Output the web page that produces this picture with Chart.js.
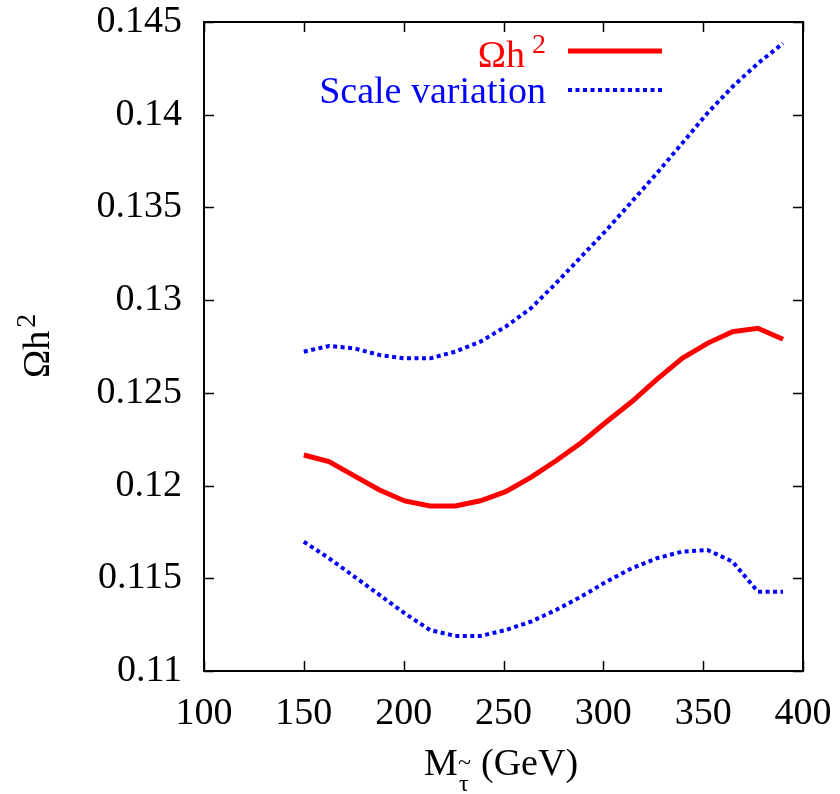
<!DOCTYPE html>
<html>
<head>
<meta charset="utf-8">
<script src="https://cdn.jsdelivr.net/npm/chart.js@4"></script>
<style>
  body { margin: 0; background: #fff; }
  canvas { display: block; }
</style>
</head>
<body>
<canvas id="chart" width="840" height="794"></canvas>
<script>
// stau mass (GeV)
const masses = [150, 162.6, 175.3, 187.9, 200.5, 213.2, 225.8, 238.4, 251.1, 263.7,
                276.3, 288.9, 301.6, 314.2, 326.8, 339.5, 352.1, 364.7, 377.4, 390];
const omegaH2 = [0.12165, 0.12129, 0.12052, 0.11976, 0.11917, 0.11890, 0.11890, 0.11918, 0.11967, 0.12044,
                 0.12134, 0.12231, 0.12344, 0.12452, 0.12573, 0.12686, 0.12767, 0.12830, 0.12848, 0.12789];
const scaleUp = [0.12722, 0.12753, 0.12740, 0.12704, 0.12686, 0.12686, 0.12722, 0.12776, 0.12857, 0.12956,
                 0.13091, 0.13234, 0.13378, 0.13531, 0.13684, 0.13846, 0.14008, 0.14151, 0.14277, 0.14385];
const scaleDown = [0.11697, 0.11608, 0.11509, 0.11410, 0.11311, 0.11221, 0.11189, 0.11189, 0.11221, 0.11266,
                   0.11329, 0.11401, 0.11482, 0.11554, 0.11608, 0.11644, 0.11653, 0.11590, 0.11428, 0.11428];
const xTicks = [100, 150, 200, 250, 300, 350, 400];
const yTicks = [0.11, 0.115, 0.12, 0.125, 0.13, 0.135, 0.14, 0.145];

const FONT = "'Liberation Serif', 'DejaVu Serif', serif";
const SIZE = 38;
const toXY = ys => masses.map((m, i) => ({ x: m, y: ys[i] }));

// gnuplot style frame, inner ticks, legend and axis titles
const framePlugin = {
  id: "frame",
  afterDraw(chart) {
    const { ctx, scales } = chart;
    const L = scales.x.left, R = scales.x.right, T = scales.y.top, B = scales.y.bottom;
    ctx.save();
    ctx.strokeStyle = "#000";
    ctx.lineWidth = 2;
    ctx.strokeRect(L, T, R - L, B - T);
    ctx.lineWidth = 1.5;
    ctx.beginPath();
    xTicks.forEach(v => {
      const px = Math.round(scales.x.getPixelForValue(v)) + 0.5;
      ctx.moveTo(px, B); ctx.lineTo(px, B - 10);
      ctx.moveTo(px, T); ctx.lineTo(px, T + 10);
    });
    yTicks.forEach(v => {
      const py = Math.round(scales.y.getPixelForValue(v)) + 0.5;
      ctx.moveTo(L, py); ctx.lineTo(L + 10, py);
      ctx.moveTo(R, py); ctx.lineTo(R - 10, py);
    });
    ctx.stroke();

    // legend
    ctx.textAlign = "right";
    ctx.textBaseline = "alphabetic";
    ctx.font = SIZE + "px " + FONT;
    ctx.fillStyle = "#ff0000";
    ctx.fillText("Ωh", 525, 67);
    ctx.font = "28px " + FONT;
    ctx.fillText("2", 546, 53);
    ctx.strokeStyle = "#ff0000";
    ctx.lineWidth = 5;
    ctx.beginPath(); ctx.moveTo(568, 51); ctx.lineTo(662, 51); ctx.stroke();

    ctx.font = SIZE + "px " + FONT;
    ctx.fillStyle = "#0000ff";
    ctx.fillText("Scale variation", 546, 103);
    ctx.strokeStyle = "#0000ff";
    ctx.lineWidth = 4;
    ctx.setLineDash([4, 3.5]);
    ctx.beginPath(); ctx.moveTo(568, 90); ctx.lineTo(662, 90); ctx.stroke();
    ctx.setLineDash([]);

    // x axis title
    ctx.fillStyle = "#000";
    ctx.textAlign = "left";
    ctx.font = SIZE + "px " + FONT;
    ctx.fillText("M", 424, 775);
    ctx.font = "24px " + FONT;
    ctx.fillText("~", 458, 770);
    ctx.fillText("τ", 459, 791);
    ctx.font = SIZE + "px " + FONT;
    ctx.fillText("(GeV)", 481, 775);

    // y axis title
    ctx.translate(49, 378);
    ctx.rotate(-Math.PI / 2);
    ctx.font = SIZE + "px " + FONT;
    ctx.fillText("Ωh", 0, 0);
    const w = ctx.measureText("Ωh").width;
    ctx.font = "28px " + FONT;
    ctx.fillText("2", w + 3, -14);
    ctx.restore();
  }
};

new Chart(document.getElementById("chart"), {
  type: "line",
  data: {
    datasets: [
      { label: "Ωh²", data: toXY(omegaH2), borderColor: "#ff0000", borderWidth: 5 },
      { label: "Scale variation", data: toXY(scaleUp), borderColor: "#0000ff", borderWidth: 4, borderDash: [4, 3.5] },
      { label: "Scale variation low", data: toXY(scaleDown), borderColor: "#0000ff", borderWidth: 4, borderDash: [4, 3.5] },
    ],
  },
  options: {
    responsive: false,
    animation: false,
    layout: { padding: { top: 22, right: 37, left: 0, bottom: 0 } },
    elements: { point: { radius: 0 }, line: { tension: 0, fill: false } },
    plugins: { legend: { display: false }, tooltip: { enabled: false } },
    scales: {
      x: {
        type: "linear",
        min: 100, max: 400,
        afterBuildTicks: s => { s.ticks = xTicks.map(v => ({ value: v })); },
        afterFit: s => { s.height = 123; s.paddingLeft = 0; s.paddingRight = 0; },
        grid: { display: false, drawTicks: false },
        border: { display: false },
        ticks: { color: "#000", font: { family: FONT, size: SIZE }, padding: 20, maxRotation: 0 },
      },
      y: {
        min: 0.11, max: 0.145,
        afterBuildTicks: s => { s.ticks = yTicks.map(v => ({ value: v })); },
        afterFit: s => { s.width = 204; s.paddingTop = 0; s.paddingBottom = 0; },
        grid: { display: false, drawTicks: false },
        border: { display: false },
        ticks: { color: "#000", font: { family: FONT, size: SIZE }, padding: 22,
                 callback: v => String(parseFloat(v.toFixed(4))) },
      },
    },
  },
  plugins: [framePlugin],
});
</script>
</body>
</html>
